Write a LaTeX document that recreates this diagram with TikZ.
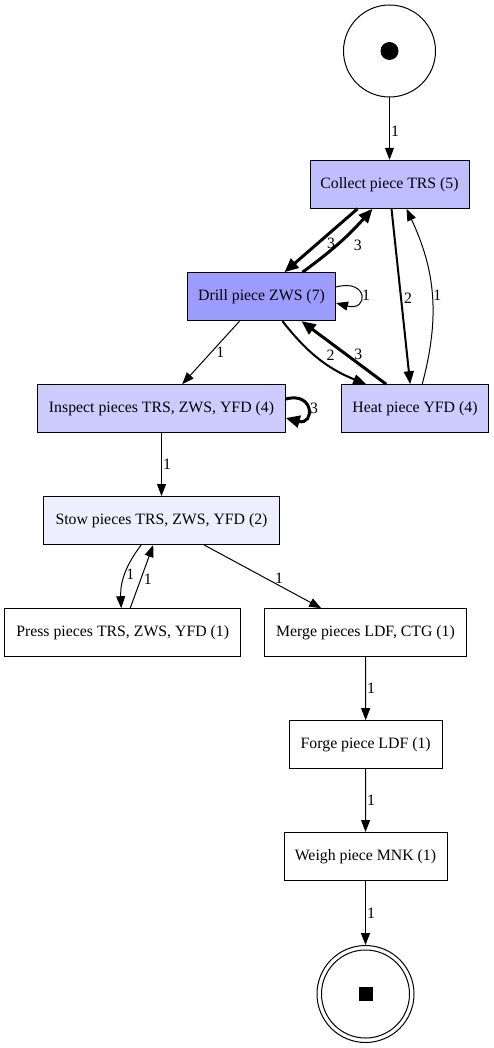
\documentclass[tikz,border=0pt]{standalone}
\usepackage{fontspec}
\setmainfont{Liberation Serif}
\usepackage{xcolor}
\usetikzlibrary{arrows.meta,shapes,calc,positioning}

\definecolor{collectfill}{RGB}{191,191,255}
\definecolor{drillfill}{RGB}{156,156,255}
\definecolor{midfill}{RGB}{204,204,255}
\definecolor{stowfill}{RGB}{238,238,255}

\begin{document}
\begin{tikzpicture}[x=1pt, y=1pt]
	\tikzstyle{every node}=[font=\fontsize{15.8}{18}\selectfont]
	\tikzstyle{trans}=[draw, line width=1pt, rectangle, minimum height=48pt, inner sep=0pt]
	\tikzstyle{place}=[draw, line width=1pt, circle, inner sep=0pt]
	\tikzstyle{arci}=[line width=1pt, -{Triangle[length=12pt, width=9pt]}]
	\tikzstyle{arcii}=[line width=2pt, -{Triangle[length=13pt, width=10pt]}]
	\tikzstyle{arciii}=[line width=3pt, -{Triangle[length=14pt, width=12pt]}]
	\tikzstyle{lbl}=[inner sep=1pt]
	\useasboundingbox (0,0) rectangle (494,-1048);
	% places and transitions
	\node (startplace) at (389.5,-51) [place, minimum size=92pt] {};
	\fill (startplace.center) circle (9pt);
	\node (collect) at (389.5,-184.3) [trans, fill=collectfill, minimum width=159pt] {Collect piece TRS (5)};
	\node (drill) at (261.5,-296.7) [trans, fill=drillfill, minimum width=148pt] {Drill piece ZWS (7)};
	\node (inspect) at (161.5,-408.7) [trans, fill=midfill, minimum width=247.6pt] {Inspect pieces TRS, ZWS, YFD (4)};
	\node (heat) at (415,-408.7) [trans, fill=midfill, minimum width=146.6pt] {Heat piece YFD (4)};
	\node (stow) at (161.5,-520.5) [trans, fill=stowfill, minimum width=235.6pt] {Stow pieces TRS, ZWS, YFD (2)};
	\node (press) at (122.7,-632.7) [trans, minimum width=236pt] {Press pieces TRS, ZWS, YFD (1)};
	\node (merge) at (365.5,-632.7) [trans, minimum width=201.6pt] {Merge pieces LDF, CTG (1)};
	\node (forge) at (365.7,-744.7) [trans, minimum width=152.7pt] {Forge piece LDF (1)};
	\node (weigh) at (365.5,-856.5) [trans, minimum width=163pt] {Weigh piece MNK (1)};
	\node (endplace) at (365.5,-994) [place, minimum size=97pt] {};
	\draw [line width=1pt] (endplace.center) circle (44pt);
	\fill ([shift={(-7,-7)}]endplace.center) rectangle ++(14,14);
	% arcs
	\draw [arci] (startplace) -- node [lbl, right, pos=0.54] {1} (collect);
	\draw [arciii] ([xshift=48pt]collect.south west) -- node [pos=0.54, xshift=13pt] {3} ([xshift=97.5pt]drill.north west);
	\draw [arciii] ([xshift=115.5pt]drill.north west) to [bend right=6] node [pos=0.46, xshift=21pt] {3} ([xshift=63pt]collect.south west);
	\draw [arcii] ([xshift=82pt]collect.south west) -- node [pos=0.51, xshift=7pt] {2} ([xshift=69pt]heat.north west);
	\draw [arci] ([xshift=81pt]heat.north west) to [bend right=20] node [lbl, right, pos=0.5] {1} ([xshift=97pt]collect.south west);
	\draw [arci] ([yshift=9.7pt]drill.east) to [out=15, in=-15, distance=34pt] node [lbl, right, pos=0.5] {1} ([yshift=-6.3pt]drill.east);
	\draw [arci] ([xshift=52.5pt]drill.south west) -- node [pos=0.5, xshift=9.5pt] {1} ([xshift=145pt]inspect.north west);
	\draw [arcii] ([xshift=95.5pt]drill.south west) to [bend right=15] node [pos=0.5, xshift=11pt, yshift=4pt] {2} ([xshift=25pt]heat.north west);
	\draw [arciii] ([xshift=45pt]heat.north west) -- node [pos=0.47, xshift=12pt] {3} ([xshift=114.5pt]drill.south west);
	\draw [arciii] ([yshift=9.7pt]inspect.east) to [out=15, in=-15, distance=30pt] node [lbl, right, pos=0.5] {3} ([yshift=-9.3pt]inspect.east);
	\draw [arci] (inspect) -- node [lbl, right, pos=0.5] {1} (stow);
	\draw [arci] ([xshift=98pt]stow.south west) to [bend right=20] node [lbl, right, pos=0.5] {1} ([xshift=117pt]press.north west);
	\draw [arci] ([xshift=126pt]press.north west) -- node [pos=0.46, xshift=7pt] {1} ([xshift=110pt]stow.south west);
	\draw [arci] ([xshift=161pt]stow.south west) -- node [pos=0.64, yshift=7pt] {1} ([xshift=57pt]merge.north west);
	\draw [arci] (merge) -- node [lbl, right, pos=0.5] {1} (forge);
	\draw [arci] (forge) -- node [lbl, right, pos=0.5] {1} (weigh);
	\draw [arci] (weigh) -- node [lbl, right, pos=0.5] {1} (endplace);
\end{tikzpicture}
\end{document}
